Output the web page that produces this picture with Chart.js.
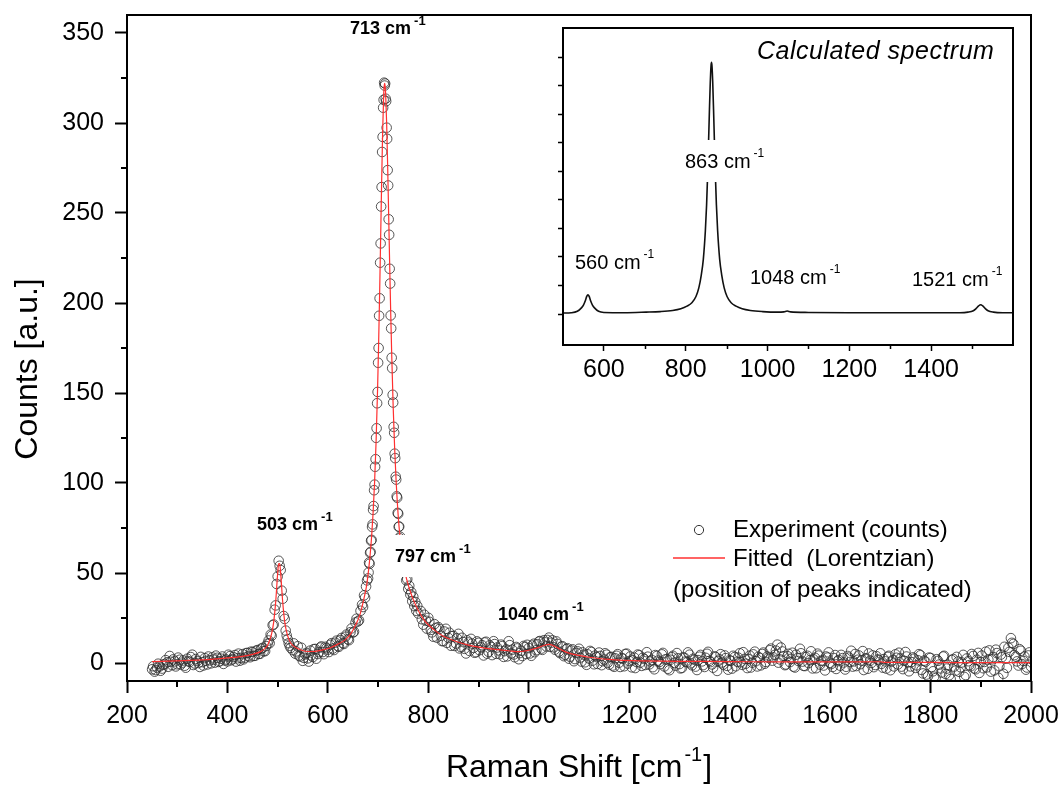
<!DOCTYPE html>
<html>
<head>
<meta charset="utf-8">
<script src="https://cdn.jsdelivr.net/npm/chart.js@4.4.0/dist/chart.umd.min.js"></script>
<style>
  html, body { margin: 0; padding: 0; background: #fff; }
  #wrap { position: relative; width: 1061px; height: 787px; overflow: hidden; }
  #mainChart { position: absolute; left: 0; top: 0; }
  #insetChart { position: absolute; left: 540px; top: 20px; background: #fff; }
</style>
</head>
<body>
<div id="wrap">
  <canvas id="mainChart" width="1061" height="787"></canvas>
  <canvas id="insetChart" width="485" height="380"></canvas>
</div>
<script>
const FONT = '"Liberation Sans", Arial, Helvetica, sans-serif';

// ---- main plot: experiment (open circles) ----
const expX = [
  250,255,260,265,270,275,280,285,290,295,
  300,305,310,315,320,325,330,335,340,345,
  350,355,360,365,370,375,380,385,390,395,
  400,405,410,415,420,425,430,435,440,445,
  450,455,460,465,470,475,480,
  482,484,486,488,490,492,494,496,498,500,
  502,504,506,508,510,512,514,516,518,520,
  522,524,526,
  530,535,540,545,550,555,560,565,570,575,
  580,585,590,595,600,605,610,615,620,625,
  630,635,640,645,650,655,660,665,
  668,670,672,674,676,678,680,
  681,682,683,684,685,686,687,688,689,690,
  691,692,693,694,695,696,697,698,699,700,
  701,702,703,704,705,706,707,708,709,710,
  711,712,713,714,715,716,717,718,719,720,
  721,722,723,724,725,726,727,728,729,730,
  731,732,733,734,735,736,737,738,739,740,
  741,742,743,744,745,746,747,748,749,750,
  752,754,756,758,760,762,764,766,768,770,772,774,776,778,780,
  785,790,795,800,805,810,815,820,825,830,
  835,840,845,850,855,860,865,870,875,880,
  885,890,895,900,905,910,915,920,925,930,
  935,940,945,950,955,960,965,970,975,980,
  985,990,995,1000,
  1005,1010,1015,1020,1025,1030,1035,1040,1045,1050,
  1055,1060,1065,1070,1075,1080,1085,1090,1095,1100,
  1105,1110,1115,1120,1125,1130,1135,1140,1145,1150,
  1155,1160,1165,1170,1175,1180,1185,1190,1195,1200,
  1205,1210,1215,1220,1225,1230,1235,1240,1245,1250,
  1255,1260,1265,1270,1275,1280,1285,1290,1295,1300,
  1305,1310,1315,1320,1325,1330,1335,1340,1345,1350,
  1355,1360,1365,1370,1375,1380,1385,1390,1395,1400,
  1405,1410,1415,1420,1425,1430,1435,1440,1445,1450,
  1455,1460,1465,1470,1475,1480,1485,1490,1495,1500,
  1505,1510,1515,1520,1525,1530,1535,1540,1545,1550,
  1555,1560,1565,1570,1575,1580,1585,1590,1595,1600,
  1605,1610,1615,1620,1625,1630,1635,1640,1645,1650,
  1655,1660,1665,1670,1675,1680,1685,1690,1695,1700,
  1705,1710,1715,1720,1725,1730,1735,1740,1745,1750,
  1755,1760,1765,1770,1775,1780,1785,1790,1795,1800,
  1805,1810,1815,1820,1825,1830,1835,1840,1845,1850,
  1855,1860,1865,1870,1875,1880,1885,1890,1895,1900,
  1905,1910,1915,1920,1925,1930,1935,1940,1945,1950,
  1955,1960,1965,1970,1975,1980,1985,1990,1995,2000
];
const expY = [
  -3.5,-4.8,-2.6,-1.9,-3.1,-0.6,0.4,3.9,-1.2,0.9,
  -0.7,1.8,0.2,-1.5,2.4,0.6,4.6,-0.3,1.1,-2.2,
  0.5,2.7,-0.8,1.5,3.1,0.2,2.9,1.0,3.6,1.4,
  0.9,3.8,2.1,4.4,2.6,1.3,4.9,3.0,5.6,3.2,
  6.1,4.0,7.2,5.1,8.4,6.6,10.8,
  12.5,11.0,15.8,15.1,21.0,21.4,29.6,32.0,43.9,48.1,
  56.8,54.0,51.6,40.2,35.7,26.1,24.5,18.0,15.3,13.2,
  11.0,9.6,8.4,
  7.1,5.2,9.3,3.6,1.2,4.8,2.6,6.9,3.3,7.8,
  5.0,8.6,6.1,9.0,7.4,10.1,8.0,11.3,9.4,12.8,
  11.0,14.6,13.2,17.1,16.9,22.5,23.1,29.0,
  32.4,31.1,37.6,36.2,42.5,45.9,47.0,
  50.3,55.8,55.1,61.2,61.7,67.9,68.4,75.6,77.0,85.1,
  87.2,96.0,99.1,109.0,113.2,125.1,130.4,144.3,150.6,166.8,
  175.0,192.9,202.6,222.4,233.1,253.6,264.4,283.9,292.3,308.5,
  312.9,322.4,320.8,321.9,313.5,312.1,297.4,291.2,273.8,265.3,
  246.5,237.9,219.0,210.8,193.1,185.9,169.6,163.8,149.0,144.7,
  131.2,127.9,116.3,113.8,103.5,101.9,92.6,91.8,83.4,82.9,
  75.7,75.8,69.3,70.1,63.8,64.9,59.0,60.2,55.1,56.3,
  51.0,50.8,45.9,46.6,41.2,42.9,38.1,39.4,34.3,36.8,31.6,33.9,29.0,31.7,27.5,
  28.9,21.3,23.5,25.1,18.4,14.6,19.5,19.9,15.2,12.1,
  19.0,13.9,9.6,15.1,10.8,16.2,8.8,11.6,5.3,11.4,
  13.4,8.4,6.0,11.2,8.7,4.2,11.8,6.2,8.9,12.1,
  5.1,7.0,10.2,3.4,7.6,12.1,5.3,4.7,8.9,2.1,
  6.8,9.5,5.0,8.3,
  4.0,10.7,7.1,11.9,8.0,12.6,9.2,14.1,11.3,8.7,
  12.0,6.3,9.1,3.8,7.7,2.4,6.9,1.0,5.6,7.9,
  0.8,4.6,-1.0,2.5,6.1,-0.7,3.3,5.8,-1.2,1.9,
  4.6,-0.9,3.4,-2.1,4.0,0.2,2.8,-1.8,5.2,1.1,
  -2.4,3.0,0.5,4.3,-1.6,2.2,6.0,-0.8,1.7,-3.5,
  3.9,0.6,4.8,-1.9,2.1,-4.0,3.2,0.0,5.5,-0.6,
  -2.7,2.9,0.4,4.6,-1.3,1.8,-3.9,3.5,0.9,-2.2,
  5.1,1.2,-0.8,3.7,-4.4,2.0,0.3,4.2,-1.6,1.5,
  -3.1,3.3,0.7,5.4,-1.0,2.3,-2.8,4.1,0.2,6.3,
  -1.9,2.8,5.0,-0.4,3.6,7.1,1.3,4.5,10.2,2.0,
  6.4,-1.2,3.8,0.5,5.7,-2.5,2.6,7.9,0.8,-1.7,
  4.0,1.6,-3.0,2.9,5.2,-0.9,1.4,-4.1,3.0,0.1,
  -2.2,4.4,1.0,-1.5,2.7,-3.6,3.9,0.6,-2.0,5.0,
  1.8,-0.7,6.6,2.4,-3.2,1.3,4.2,-1.1,2.0,5.4,
  -2.6,0.9,3.4,-4.0,1.6,4.8,-0.8,2.5,-3.4,6.1,
  0.3,-1.9,3.1,-2.7,1.5,4.3,-5.8,0.7,-7.3,2.8,
  -4.6,-8.4,1.2,-3.0,3.6,-6.1,-1.0,-8.9,2.2,-4.2,
  0.8,-2.4,4.5,-6.7,1.0,-1.8,3.9,-3.5,5.6,0.4,
  -2.9,6.3,1.9,-4.8,3.3,7.4,-8.2,4.7,-6.0,2.6,
  8.5,13.8,10.6,3.5,-1.4,6.8,1.1,-3.7,4.2,-2.0
];

// second set of readings lying between the first ones (denser baseline)
const expX2 = [
  252,257,262,267,272,277,282,287,292,297,
  302,307,312,317,322,327,332,337,342,347,
  352,357,362,367,372,377,382,387,392,397,
  402,407,412,417,422,427,432,437,442,447,
  452,457,462,467,472,477,
  532,537,542,547,552,557,562,567,572,577,
  582,587,592,597,602,607,612,617,622,627,
  632,637,642,647,652,657,662,
  787,792,797,802,807,812,817,822,827,832,
  837,842,847,852,857,862,867,872,877,882,
  887,892,897,902,907,912,917,922,927,932,
  937,942,947,952,957,962,967,972,977,982,
  987,992,997,1002,1007,1012,1017,1022,1027,1032,
  1037,1042,1047,1052,1057,1062,1067,1072,1077,1082,
  1087,1092,1097,1102,1107,1112,1117,1122,1127,1132,
  1137,1142,1147,1152,1157,1162,1167,1172,1177,1182,
  1187,1192,1197,1202,1207,1212,1217,1222,1227,1232,
  1237,1242,1247,1252,1257,1262,1267,1272,1277,1282,
  1287,1292,1297,1302,1307,1312,1317,1322,1327,1332,
  1337,1342,1347,1352,1357,1362,1367,1372,1377,1382,
  1387,1392,1397,1402,1407,1412,1417,1422,1427,1432,
  1437,1442,1447,1452,1457,1462,1467,1472,1477,1482,
  1487,1492,1497,1502,1507,1512,1517,1522,1527,1532,
  1537,1542,1547,1552,1557,1562,1567,1572,1577,1582,
  1587,1592,1597,1602,1607,1612,1617,1622,1627,1632,
  1637,1642,1647,1652,1657,1662,1667,1672,1677,1682,
  1687,1692,1697,1702,1707,1712,1717,1722,1727,1732,
  1737,1742,1747,1752,1757,1762,1767,1772,1777,1782,
  1787,1792,1797,1802,1807,1812,1817,1822,1827,1832,
  1837,1842,1847,1852,1857,1862,1867,1872,1877,1882,
  1887,1892,1897,1902,1907,1912,1917,1922,1927,1932,
  1937,1942,1947,1952,1957,1962,1967,1972,1977,1982,
  1987,1992,1997
];
const expY2 = [
  -1.8,-3.9,-0.4,-4.3,-1.0,1.6,-2.1,0.7,2.0,-1.9,
  3.0,-0.9,1.4,-2.6,1.0,3.3,-1.1,2.2,0.0,3.4,
  -1.4,1.2,3.6,-0.2,1.9,4.1,0.6,2.4,-0.5,2.0,
  4.6,1.5,3.3,0.8,5.2,2.8,2.0,5.5,3.8,6.3,
  3.9,6.8,5.0,7.9,6.5,9.4,
  10.9,6.4,4.1,8.5,2.9,5.6,0.8,4.2,7.7,2.4,
  6.0,9.2,4.9,8.3,6.1,11.0,7.2,12.4,9.0,13.9,
  10.6,15.8,12.7,19.2,17.4,24.6,23.7,
  24.3,26.8,19.1,22.9,17.0,21.6,14.1,18.9,12.2,17.5,
  11.2,16.8,14.9,9.5,13.7,8.1,14.0,7.9,12.6,6.7,
  10.8,5.7,12.0,7.1,9.9,11.4,5.2,9.8,4.4,10.5,
  8.6,4.9,9.4,6.6,3.7,9.9,7.4,3.2,8.1,5.5,
  3.9,8.8,10.1,5.3,9.7,6.0,10.4,12.2,7.3,11.5,
  12.8,9.0,12.6,7.4,10.6,5.5,9.3,4.6,8.2,3.5,
  7.6,2.2,6.5,3.0,5.9,0.4,4.8,6.7,1.3,4.1,
  -0.5,3.9,1.0,5.4,0.1,3.2,-1.4,2.6,4.9,-2.2,
  2.4,5.0,-0.3,3.6,1.5,-2.8,4.7,0.2,2.9,-1.1,
  3.5,0.9,-2.3,4.4,1.3,-0.6,5.6,2.0,-3.2,1.8,
  4.0,-1.5,2.6,-3.0,3.1,0.8,5.9,-0.2,2.3,-2.0,
  1.6,4.5,-1.2,2.9,6.2,0.5,-2.6,3.3,1.1,4.9,
  -0.9,2.7,-3.7,1.2,4.0,-1.8,3.0,0.4,6.0,-0.4,
  2.2,-2.5,4.8,1.0,3.4,-1.3,5.8,0.6,2.9,8.0,
  3.1,6.9,0.2,8.6,3.7,-0.8,5.1,2.3,-2.0,4.6,
  1.1,5.4,-1.6,3.3,0.0,6.5,2.0,-2.9,4.1,1.2,
  -1.4,3.6,5.9,-0.6,2.8,-3.3,1.7,4.5,0.3,-2.1,
  3.0,6.8,0.9,-1.7,4.2,1.4,-3.9,2.6,5.3,0.0,
  -2.3,3.8,1.5,-0.5,2.2,-3.1,4.0,0.8,-1.9,2.9,
  5.7,-2.0,1.2,3.6,-4.6,0.5,2.4,-1.3,4.9,-3.8,
  1.3,-6.4,3.0,-2.2,-7.6,2.1,-0.9,-5.3,4.0,-3.1,
  -6.8,1.6,-2.0,3.4,-4.9,0.3,-7.7,2.5,-1.2,5.0,
  -3.0,1.8,-5.5,4.1,0.6,-2.4,7.0,2.0,-4.1,5.5,
  -1.8,3.2,9.0,-2.7,6.2,11.2,4.4,0.9,7.7,-0.6,
  3.6,-2.5,5.9
];

// ---- main plot: Lorentzian fit (red line) ----
const fitX = [250,300,350,400,430,450,465,475,480,484,488,492,496,500,502,504,506,510,514,518,
  522,526,530,538,548,560,575,590,605,620,635,645,655,664,672,677,681,684,687,690,
  693,696,699,701,703,705,707,709,711,712,713,714,715,717,719,721,723,725,727,730,
  733,736,740,743,746,750,755,760,765,770,780,790,797,810,820,830,840,860,880,900,
  920,940,960,980,1000,1020,1030,1040,1050,1060,1070,1080,1100,1120,1140,1160,1180,1220,1260,1300,
  1400,1500,1600,1700,1710,1800,1900,2000];
const fitY = [0.8,1.2,1.7,2.8,3.7,4.8,6.2,8.1,9.9,12.6,16.3,22.6,33.8,49.7,55.2,55.2,49.8,34,23,17,
  13.4,11.1,9.8,8.3,7.1,6.4,6.5,7.3,8.5,10.5,13.0,16.0,21.0,27,36,42.8,51.6,59.7,70,83.3,
  100.5,123.2,152.8,177.1,204.9,235.4,266.7,294.7,314.7,320.1,322,320.5,316.2,299.9,276.4,249.2,221.7,195.7,172.2,142.4,
  118.8,100.3,81.8,71.7,63.7,55.5,48.5,43.4,39,35.2,29.2,24.5,22.1,18.8,16.6,14.9,13.6,11.5,9.9,8.8,
  8.0,7.4,6.8,6.3,7.1,8.7,9.7,10.3,9.5,8.0,6.6,5.5,4.2,3.2,2.5,2.0,1.6,1.2,1.0,0.9,
  0.8,0.6,0.6,0.7,0.3,0.3,0.2,0.2];

// ---- inset: calculated spectrum ----
const insetX = [500,520,535,545,550,555,558,561,564,567,572,577,587,600,650,703,738,768,788,803,
  815,825,832,838,843,848,851,854,856,858,860,861,862,863,864,865,866,868,870,872,
  875,878,883,888,894,901,911,923,938,958,988,1023,1040,1048,1056,1100,1200,1300,1400,1470,
  1490,1503,1510,1516,1521,1526,1532,1539,1552,1575,1600];
const insetY = [0.02,0.03,0.08,0.2,0.3,0.47,0.6,0.66,0.6,0.47,0.3,0.2,0.08,0.04,0.03,0.05,0.07,0.11,0.17,0.26,
  0.38,0.6,0.9,1.35,1.9,2.9,3.8,5.05,6.1,7.15,8.1,8.45,8.7,8.8,8.7,8.45,8.1,7.15,6.1,5.05,
  3.8,2.9,1.9,1.35,0.9,0.6,0.38,0.26,0.17,0.11,0.07,0.05,0.06,0.09,0.06,0.04,0.03,0.03,0.03,0.03,
  0.05,0.1,0.18,0.27,0.31,0.27,0.18,0.1,0.05,0.03,0.03];

// ticks
const xMajor = [200,400,600,800,1000,1200,1400,1600,1800,2000];
const xMinor = [300,500,700,900,1100,1300,1500,1700,1900];
const yMajor = [0,50,100,150,200,250,300,350];
const yMinor = [25,75,125,175,225,275,325];
const insetXMajor = [600,800,1000,1200,1400];
const insetXMinor = [700,900,1100,1300,1500];
const insetYTicks = [0,1,2,3,4,5,6,7,8,9];

// labels
const mainPeaks = ['503','713','797','1040'];
const insetPeaks = ['560','863','1048','1521'];
const legendTexts = ['Experiment (counts)', 'Fitted  (Lorentzian)', '(position of peaks indicated)'];

function pairs(xs, ys) {
  const out = [];
  for (let i = 0; i < Math.min(xs.length, ys.length); i++) out.push({ x: xs[i], y: ys[i] });
  return out;
}

// draws "num cm" with a raised "-1"
function peakLabel(ctx, num, left, cy, font, supFont, rise, bg) {
  ctx.font = font;
  const base = num + ' cm';
  const w1 = ctx.measureText(base).width;
  ctx.font = supFont;
  const w2 = ctx.measureText('-1').width;
  if (bg) {
    ctx.fillStyle = '#fff';
    ctx.fillRect(left - 4, cy - 22, w1 + w2 + 11, 42);
  }
  ctx.fillStyle = '#000';
  ctx.textAlign = 'left';
  ctx.textBaseline = 'middle';
  ctx.font = font;
  ctx.fillText(base, left, cy);
  ctx.font = supFont;
  ctx.fillText('-1', left + w1 + 3, cy - rise);
}

const mainLabelPos = [
  { left: 257, cy: 525, bg: false },
  { left: 350, cy: 29, bg: false },
  { left: 395, cy: 557, bg: true },
  { left: 498, cy: 615, bg: false }
];

const mainDecor = {
  id: 'mainDecor',
  afterDatasetsDraw(chart) {
    const ctx = chart.ctx;
    const a = chart.chartArea;
    const xs = chart.scales.x, ys = chart.scales.y;
    ctx.save();

    mainPeaks.forEach((p, i) => {
      const pos = mainLabelPos[i];
      peakLabel(ctx, p, pos.left, pos.cy, 'bold 18px ' + FONT, 'bold 13px ' + FONT, 8, pos.bg);
    });

    // frame
    ctx.strokeStyle = '#000';
    ctx.lineWidth = 2;
    ctx.strokeRect(a.left, a.top, a.right - a.left, a.bottom - a.top);

    // minor ticks
    ctx.beginPath();
    xMinor.forEach(v => {
      const px = Math.round(xs.getPixelForValue(v));
      ctx.moveTo(px, a.bottom);
      ctx.lineTo(px, a.bottom + 6);
    });
    yMinor.forEach(v => {
      const py = Math.round(ys.getPixelForValue(v));
      ctx.moveTo(a.left, py);
      ctx.lineTo(a.left - 6, py);
    });
    ctx.stroke();

    // legend
    ctx.font = '24px ' + FONT;
    ctx.textAlign = 'left';
    ctx.textBaseline = 'middle';
    ctx.fillStyle = '#000';
    ctx.strokeStyle = '#333';
    ctx.lineWidth = 1;
    ctx.beginPath();
    ctx.arc(699, 530, 4.6, 0, Math.PI * 2);
    ctx.stroke();
    ctx.fillText(legendTexts[0], 733, 530);
    ctx.strokeStyle = '#ff3030';
    ctx.lineWidth = 1.5;
    ctx.beginPath();
    ctx.moveTo(673, 558);
    ctx.lineTo(725, 558);
    ctx.stroke();
    ctx.fillText(legendTexts[1], 733, 559);
    ctx.fillText(legendTexts[2], 673, 590);

    // axis titles
    ctx.font = '32px ' + FONT;
    ctx.save();
    ctx.translate(28.5, 369);
    ctx.rotate(-Math.PI / 2);
    ctx.textAlign = 'center';
    ctx.fillText('Counts [a.u.]', 0, 0);
    ctx.restore();

    const t1 = 'Raman Shift [cm', t2 = '-1', t3 = ']';
    ctx.font = '32px ' + FONT;
    const w1 = ctx.measureText(t1).width, w3 = ctx.measureText(t3).width;
    ctx.font = '20px ' + FONT;
    const w2 = ctx.measureText(t2).width;
    const total = w1 + 2 + w2 + 1 + w3;
    let lx = (a.left + a.right) / 2 - total / 2;
    ctx.textAlign = 'left';
    ctx.font = '32px ' + FONT;
    ctx.fillText(t1, lx, 768);
    ctx.font = '20px ' + FONT;
    ctx.fillText(t2, lx + w1 + 2, 755);
    ctx.font = '32px ' + FONT;
    ctx.fillText(t3, lx + w1 + 2 + w2 + 1, 768);

    ctx.restore();
  }
};

new Chart(document.getElementById('mainChart'), {
  type: 'scatter',
  data: {
    datasets: [
      {
        type: 'line',
        label: 'Fitted (Lorentzian)',
        data: pairs(fitX, fitY),
        borderColor: '#ff3030',
        borderWidth: 1.2,
        pointRadius: 0,
        fill: false,
        cubicInterpolationMode: 'monotone',
        clip: 0,
        order: 0
      },
      {
        label: 'Experiment (counts)',
        data: pairs(expX, expY).concat(pairs(expX2, expY2)),
        pointStyle: 'circle',
        pointRadius: 4.8,
        borderWidth: 1,
        borderColor: 'rgba(45,45,45,0.8)',
        backgroundColor: 'rgba(0,0,0,0)',
        clip: 0,
        order: 1
      }
    ]
  },
  options: {
    responsive: false,
    devicePixelRatio: 1,
    animation: false,
    events: [],
    layout: { padding: { top: 15, right: 30, left: 0, bottom: 0 } },
    plugins: { legend: { display: false }, tooltip: { enabled: false } },
    scales: {
      x: {
        type: 'linear',
        min: 200,
        max: 2000,
        afterBuildTicks: s => { s.ticks = xMajor.map(v => ({ value: v })); },
        afterFit: s => { s.height = 106; s.paddingLeft = 0; s.paddingRight = 0; },
        ticks: { font: { family: FONT, size: 25 }, color: '#000', padding: 8, maxRotation: 0, autoSkip: false, callback: v => String(v) },
        grid: { display: true, drawOnChartArea: false, drawTicks: true, tickLength: 12, tickWidth: 2, tickColor: '#000' },
        border: { display: false }
      },
      y: {
        type: 'linear',
        min: -10,
        max: 360,
        afterBuildTicks: s => { s.ticks = yMajor.map(v => ({ value: v })); },
        afterFit: s => { s.width = 127; s.paddingTop = 0; s.paddingBottom = 0; },
        ticks: { font: { family: FONT, size: 25 }, color: '#000', padding: 11, autoSkip: false, callback: v => String(v) },
        grid: { display: true, drawOnChartArea: false, drawTicks: true, tickLength: 12, tickWidth: 2, tickColor: '#000' },
        border: { display: false }
      }
    }
  },
  plugins: [mainDecor]
});

// ---- inset ----
const insetLabelPos = [
  { left: 35, cy: 243, bg: false },
  { left: 145, cy: 142, bg: true },
  { left: 210, cy: 258, bg: false },
  { left: 372, cy: 260, bg: false }
];

const insetDecor = {
  id: 'insetDecor',
  afterDatasetsDraw(chart) {
    const ctx = chart.ctx;
    const a = chart.chartArea;
    const xs = chart.scales.x, ys = chart.scales.y;
    ctx.save();

    insetPeaks.forEach((p, i) => {
      const pos = insetLabelPos[i];
      peakLabel(ctx, p, pos.left, pos.cy, '20px ' + FONT, '12px ' + FONT, 8, pos.bg);
    });

    ctx.font = 'italic 25px ' + FONT;
    ctx.textAlign = 'left';
    ctx.textBaseline = 'middle';
    ctx.fillStyle = '#000';
    ctx.letterSpacing = '0.5px';
    ctx.fillText('Calculated spectrum', 217, 32);
    ctx.letterSpacing = '0px';

    ctx.strokeStyle = '#000';
    ctx.lineWidth = 2;
    ctx.strokeRect(a.left, a.top, a.right - a.left, a.bottom - a.top);

    ctx.lineWidth = 1.5;
    ctx.beginPath();
    insetXMinor.forEach(v => {
      const px = Math.round(xs.getPixelForValue(v)) + 0.5;
      ctx.moveTo(px, a.bottom);
      ctx.lineTo(px, a.bottom + 4);
    });
    insetYTicks.forEach(v => {
      const py = Math.round(ys.getPixelForValue(v)) + 0.5;
      ctx.moveTo(a.left, py);
      ctx.lineTo(a.left - 5, py);
    });
    ctx.stroke();
    ctx.restore();
  }
};

new Chart(document.getElementById('insetChart'), {
  type: 'line',
  data: {
    datasets: [{
      label: 'Calculated spectrum',
      data: pairs(insetX, insetY),
      borderColor: '#111',
      borderWidth: 1.6,
      pointRadius: 0,
      fill: false,
      cubicInterpolationMode: 'monotone',
      clip: 0
    }]
  },
  options: {
    responsive: false,
    devicePixelRatio: 1,
    animation: false,
    events: [],
    layout: { padding: { top: 8, right: 12, left: 0, bottom: 0 } },
    plugins: { legend: { display: false }, tooltip: { enabled: false } },
    scales: {
      x: {
        type: 'linear',
        min: 500,
        max: 1600,
        afterBuildTicks: s => { s.ticks = insetXMajor.map(v => ({ value: v })); },
        afterFit: s => { s.height = 55; s.paddingLeft = 0; s.paddingRight = 0; },
        ticks: { font: { family: FONT, size: 25 }, color: '#000', padding: 4, maxRotation: 0, autoSkip: false, callback: v => String(v) },
        grid: { display: true, drawOnChartArea: false, drawTicks: true, tickLength: 6, tickWidth: 1.5, tickColor: '#000' },
        border: { display: false }
      },
      y: {
        type: 'linear',
        min: -1.1,
        max: 10,
        afterFit: s => { s.width = 23; s.paddingTop = 0; s.paddingBottom = 0; },
        ticks: { display: false },
        grid: { display: false },
        border: { display: false }
      }
    }
  },
  plugins: [insetDecor]
});
</script>
</body>
</html>
